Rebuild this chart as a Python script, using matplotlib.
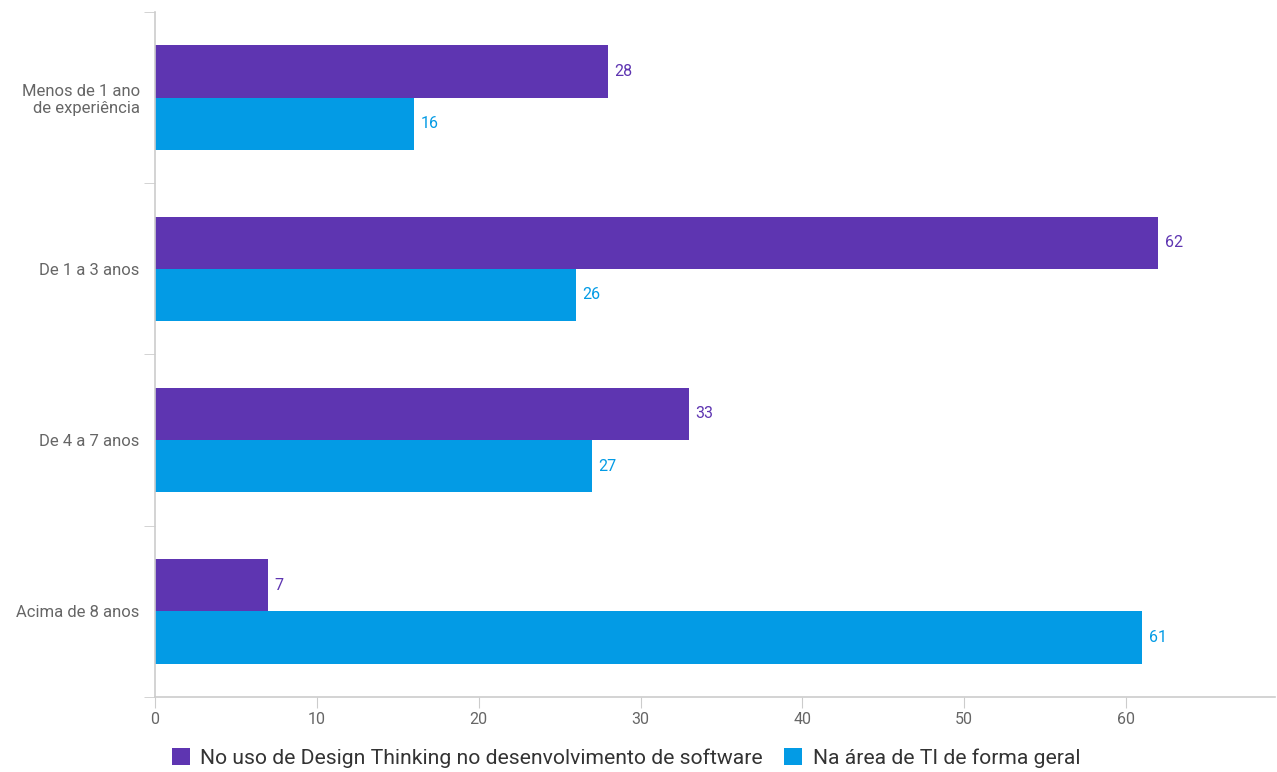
import numpy as np
import matplotlib.pyplot as plt

categorias = ["Menos de 1 ano\nde experiência", "De 1 a 3 anos", "De 4 a 7 anos", "Acima de 8 anos"]
design_thinking = [28, 62, 33, 7]
ti_geral = [16, 26, 27, 61]
series_nomes = ["No uso de Design Thinking no desenvolvimento de software",
                "Na área de TI de forma geral"]

roxo = "#5E35B1"
azul = "#039BE5"
cinza_txt = "#666666"
cinza_eixo = "#CCCCCC"

plt.rcParams['font.family'] = ['Roboto', 'DejaVu Sans']

fig = plt.figure(figsize=(12.77, 7.72), dpi=100)
ax = fig.add_axes([0.1214, 0.0972, 0.877, 0.8873])

y = np.arange(len(categorias))
h = 0.305
b1 = ax.barh(y - h / 2, design_thinking, height=h, color=roxo, label=series_nomes[0])
b2 = ax.barh(y + h / 2, ti_geral, height=h, color=azul, label=series_nomes[1])

for barras, cor in ((b1, roxo), (b2, azul)):
    for r in barras:
        ax.text(r.get_width() + 0.4, r.get_y() + r.get_height() / 2, f"{r.get_width():g}",
                va="center", ha="left", color=cor, fontsize=11.5)

ax.set_xlim(0, 69.2)
ax.set_ylim(len(categorias) - 0.5, -0.5)

ax.set_yticks(y)
ax.set_yticklabels(categorias, fontsize=12, color=cinza_txt, ha="right", multialignment="right")
ax.set_yticks(np.arange(-0.5, len(categorias)), minor=True)
ax.tick_params(axis="y", which="major", length=0, pad=11)
ax.tick_params(axis="y", which="minor", length=8, color=cinza_eixo, direction="out")

ax.set_xticks(np.arange(0, 70, 10))
ax.tick_params(axis="x", length=8, color=cinza_eixo, labelcolor=cinza_txt, labelsize=11.5, pad=3)

for lado in ("top", "right"):
    ax.spines[lado].set_visible(False)
for lado in ("left", "bottom"):
    ax.spines[lado].set_color(cinza_eixo)
    ax.spines[lado].set_linewidth(1.2)

fig.legend(handles=[b1, b2], labels=series_nomes, loc="center",
           bbox_to_anchor=(626 / 1277, 1 - 758 / 772), ncol=2, frameon=False,
           fontsize=15.2, handlelength=0.85, handleheight=0.85, handletextpad=0.5,
           columnspacing=1.0, borderpad=0, labelcolor="#333333")

fig.savefig("out.png", dpi=100)
